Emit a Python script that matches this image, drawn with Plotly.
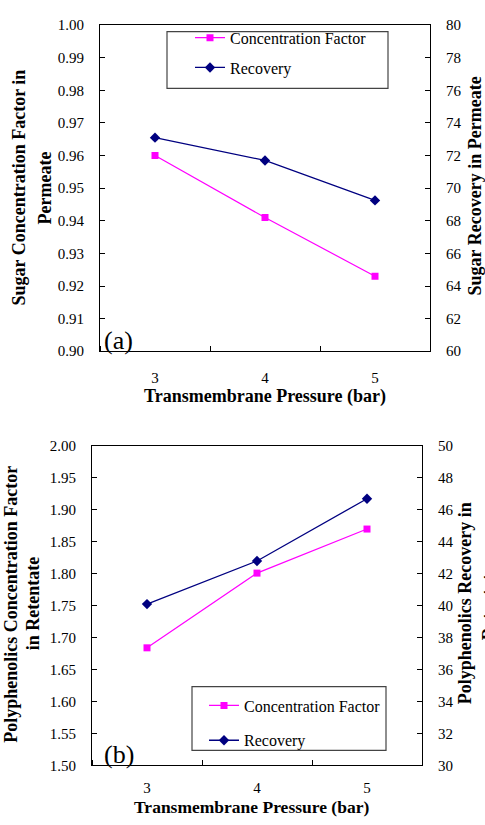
import plotly.graph_objects as go

W, H = 485, 825

pressure = [3, 4, 5]
tick_labels = ["3", "4", "5"]

# (a) Sugar in permeate
sugar_cf = [0.960, 0.941, 0.923]
sugar_rec = [73.1, 71.7, 69.25]

# (b) Polyphenolics in retentate
poly_cf = [1.684, 1.801, 1.870]
poly_rec = [40.1, 42.8, 46.7]

FONT = "Times New Roman, Liberation Serif, serif"
MAG = "#FF00FF"
NAVY = "#000080"


def px_x(p):
    return p / W


def px_y(p):
    return 1 - p / H


fig = go.Figure()

fig.add_trace(go.Scatter(x=pressure, y=sugar_cf, name="Concentration Factor",
                         mode="lines+markers", xaxis="x", yaxis="y",
                         line=dict(color=MAG, width=1.2),
                         marker=dict(symbol="square", size=7, color=MAG),
                         legend="legend", legendgroup="a1"))
fig.add_trace(go.Scatter(x=pressure, y=sugar_rec, name="Recovery",
                         mode="lines+markers", xaxis="x", yaxis="y2",
                         line=dict(color=NAVY, width=1.3),
                         marker=dict(symbol="diamond", size=8, color=NAVY),
                         legend="legend", legendgroup="a2"))
fig.add_trace(go.Scatter(x=pressure, y=poly_cf, name="Concentration Factor",
                         mode="lines+markers", xaxis="x2", yaxis="y3",
                         line=dict(color=MAG, width=1.2),
                         marker=dict(symbol="square", size=7, color=MAG),
                         legend="legend2", legendgroup="b1"))
fig.add_trace(go.Scatter(x=pressure, y=poly_rec, name="Recovery",
                         mode="lines+markers", xaxis="x2", yaxis="y4",
                         line=dict(color=NAVY, width=1.3),
                         marker=dict(symbol="diamond", size=8, color=NAVY),
                         legend="legend2", legendgroup="b2"))

tickfont = dict(family=FONT, size=15, color="black")


def xaxis_cfg(domain, anchor, standoff):
    return dict(domain=domain, anchor=anchor, range=[2.5, 5.5],
                tickvals=pressure, ticktext=tick_labels, ticks="",
                showline=True, mirror=True, linecolor="black", linewidth=1,
                showgrid=False, zeroline=False, tickfont=tickfont,
                ticklabelstandoff=standoff,
                minor=dict(ticks="inside", tick0=3.5, dtick=1, ticklen=5,
                           tickcolor="black", showgrid=False))


def yaxis_cfg(domain, anchor, rng, dtick, fmt, side="left", overlaying=None):
    d = dict(domain=domain, anchor=anchor, range=rng, dtick=dtick,
             tick0=rng[0], tickformat=fmt, side=side,
             showline=True, linecolor="black", linewidth=1,
             ticks="inside", ticklen=5, tickcolor="black",
             showgrid=False, zeroline=False, tickfont=tickfont,
             ticklabelstandoff=12)
    if overlaying:
        d["overlaying"] = overlaying
    return d


top_x = [px_x(100), px_x(430)]
top_y = [px_y(350), px_y(17.5)]
bot_x = [px_x(92), px_x(422)]
bot_y = [px_y(772.3), px_y(446.7)]

fig.update_layout(
    width=W, height=H,
    margin=dict(l=0, r=0, t=0, b=0),
    paper_bgcolor="white", plot_bgcolor="white",
    font=dict(family=FONT, color="black"),
    xaxis=xaxis_cfg(top_x, "y", 13),
    yaxis=yaxis_cfg(top_y, "x", [0.90, 1.00], 0.01, ".2f"),
    yaxis2=yaxis_cfg(top_y, "x", [60, 80], 2, "d", side="right", overlaying="y"),
    xaxis2=xaxis_cfg(bot_x, "y3", 9),
    yaxis3=yaxis_cfg(bot_y, "x2", [1.50, 2.00], 0.05, ".2f"),
    yaxis4=yaxis_cfg(bot_y, "x2", [30, 50], 2, "d", side="right", overlaying="y3"),
    legend=dict(x=px_x(190), y=px_y(13), xanchor="left", yanchor="top",
                bgcolor="rgba(0,0,0,0)", borderwidth=0,
                font=dict(family=FONT, size=16, color="black"),
                tracegroupgap=6, itemwidth=30),
    legend2=dict(x=px_x(204), y=px_y(694), xanchor="left", yanchor="top",
                 bgcolor="rgba(0,0,0,0)", borderwidth=0,
                 font=dict(family=FONT, size=16, color="black"),
                 tracegroupgap=11, itemwidth=30),
    showlegend=True,
)

# legend frames
fig.add_shape(type="rect", xref="paper", yref="paper",
              x0=px_x(167), x1=px_x(388), y0=px_y(82), y1=px_y(24),
              line=dict(color="#444444", width=1.2), fillcolor="white", layer="below")
fig.add_shape(type="rect", xref="paper", yref="paper",
              x0=px_x(192), x1=px_x(386), y0=px_y(757), y1=px_y(692),
              line=dict(color="#444444", width=1.2), fillcolor="white", layer="below")

title_font = dict(family=FONT, size=18, color="black")


def ann(text, x, y, angle=0, font=title_font):
    fig.add_annotation(text=text, xref="paper", yref="paper",
                       x=px_x(x), y=px_y(y), xanchor="center", yanchor="middle",
                       textangle=angle, showarrow=False, font=font)


# (a) titles
ann("<b>Sugar Concentration Factor in</b>", 19, 183, -90)
ann("<b>Permeate</b>", 45, 184, -90)
ann("<b>Sugar Recovery in Permeate</b>", 475, 182, -90)
ann("<b>Transmembrane Pressure (bar)</b>", 265, 396)
ann("(a)", 118, 339, 0, dict(family=FONT, size=26, color="black"))

# (b) titles
ann("<b>Polyphenolics Concentration Factor</b>", 11.5, 608, -90)
ann("<b>in Retentate</b>", 33, 608, -90)
ann("<b>Polyphenolics Recovery in</b>", 465, 607, -90)
ann("<b>Retentate</b>", 489, 607, -90)
ann("<b>Transmembrane Pressure (bar)</b>", 251, 814.5,
    0, dict(family=FONT, size=17.5, color="black"))
ann("(b)", 119, 761, 0, dict(family=FONT, size=26, color="black"))

fig.write_html("out.html")
